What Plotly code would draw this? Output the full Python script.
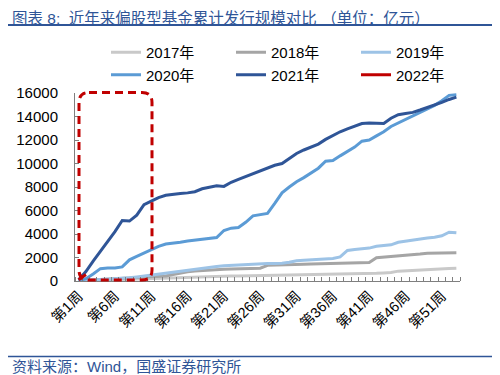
import plotly.graph_objects as go

weeks = list(range(1, 54))
tick_vals = [1, 6, 11, 16, 21, 26, 31, 36, 41, 46, 51]
tick_text = ["第%d周" % w for w in tick_vals]

series_names = ["2017年", "2018年", "2019年", "2020年", "2021年", "2022年"]

y2017 = [10, 30, 50, 70, 90, 110, 130, 160, 190, 220, 250, 270, 300, 320, 340, 360, 370, 380, 390, 400,
         410, 420, 430, 440, 450, 460, 470, 480, 490, 500, 505, 510, 520, 530, 540, 550, 560, 580, 600, 620,
         640, 660, 690, 720, 840, 880, 910, 940, 970, 1000, 1030, 1060, 1080]
y2018 = [30, 60, 90, 110, 140, 170, 200, 230, 260, 300, 340, 380, 420, 560, 680, 780, 850, 900, 950, 980,
         1000, 1020, 1040, 1050, 1070, 1090, 1330, 1360, 1380, 1400, 1410, 1420, 1440, 1460, 1470, 1490, 1500, 1520, 1540, 1560,
         1580, 1980, 2030, 2060, 2120, 2150, 2200, 2300, 2370, 2390, 2400, 2410, 2410]
y2019 = [20, 50, 80, 120, 150, 180, 220, 280, 350, 430, 520, 620, 730, 810, 870, 930, 1000, 1070, 1150, 1230,
         1290, 1330, 1370, 1400, 1440, 1460, 1480, 1490, 1510, 1600, 1720, 1760, 1790, 1820, 1860, 1920, 2050, 2600, 2680, 2730,
         2800, 2950, 3000, 3080, 3300, 3400, 3500, 3580, 3650, 3720, 3850, 4150, 4100]
y2020 = [0, 200, 600, 1050, 1100, 1100, 1200, 1800, 2100, 2400, 2700, 2950, 3150, 3200, 3300, 3400, 3480, 3550, 3600, 3700,
         4300, 4500, 4550, 5000, 5550, 5650, 5750, 6600, 7500, 8000, 8450, 8800, 9200, 9600, 10200, 10250, 10650, 11000, 11400, 11900,
         12000, 12350, 12700, 13150, 13450, 13700, 14050, 14350, 14600, 14950, 15350, 15800, 15850]
y2021 = [100, 800, 1700, 2500, 3300, 4200, 5150, 5100, 5600, 6500, 6800, 7100, 7300, 7400, 7450, 7500, 7600, 7850, 7950, 8100,
         8050, 8400, 8650, 8900, 9150, 9400, 9650, 9850, 10000, 10400, 10850, 11150, 11400, 11650, 12050, 12400, 12700, 12950, 13200, 13400,
         13450, 13450, 13400, 13850, 14150, 14250, 14350, 14550, 14750, 15000, 15200, 15450, 15650]
y2022 = [100, 550]

colors = ["#C9C9C9", "#A5A5A5", "#9DC3E6", "#5B9BD5", "#2F5597", "#C00000"]
all_y = [y2017, y2018, y2019, y2020, y2021, y2022]

fig = go.Figure()
for name, ys, c in zip(series_names, all_y, colors):
    fig.add_trace(go.Scatter(x=weeks[:len(ys)], y=ys, mode="lines", name=name,
                             line=dict(color=c, width=3)))

# page body has an 8px default margin: lay out in page pixels, then offset
OFF = 8
W, H = 500 - OFF, 375 - OFF
PL, PR, PT, PB = 75, 460, 93, 281          # plot area in page pixels
L, T = PL - OFF, PT - OFF
pw, ph = PR - PL, PB - PT
R, B = W - L - pw, H - T - ph

def px_x(px):
    return (px - PL) / pw

def px_y(py):
    return (PB - py) / ph

# rounded dashed rectangle (highlight box)
x0, x1 = px_x(79), px_x(152)
y0, y1 = px_y(280), px_y(92.5)
rx, ry = 10 / pw, 10 / ph
path = (f"M {x0+rx},{y1} L {x1-rx},{y1} Q {x1},{y1} {x1},{y1-ry} L {x1},{y0+ry} "
        f"Q {x1},{y0} {x1-rx},{y0} L {x0+rx},{y0} Q {x0},{y0} {x0},{y0+ry} "
        f"L {x0},{y1-ry} Q {x0},{y1} {x0+rx},{y1} Z")

FONT = "Liberation Sans, Noto Sans CJK SC"
fig.update_layout(
    width=W, height=H,
    margin=dict(l=L, r=R, t=T, b=B, autoexpand=False),
    paper_bgcolor="white", plot_bgcolor="white",
    font=dict(family=FONT, size=14, color="#000000"),
    showlegend=True,
    legend=dict(orientation="h", x=px_x(106), xanchor="left", y=px_y(36), yanchor="top",
                font=dict(size=15, family=FONT),
                entrywidth=80, entrywidthmode="pixels", tracegroupgap=0,
                bgcolor="rgba(0,0,0,0)"),
    xaxis=dict(range=[0.5, 53.5], tickmode="array", tickvals=tick_vals, ticktext=tick_text,
               tickangle=-45, showgrid=False, zeroline=False, showline=True,
               linecolor="#7F7F7F", linewidth=1, ticks="",
               tickfont=dict(size=14.5, family=FONT),
               minor=dict(ticks="inside", tickmode="linear", tick0=0.5, dtick=1,
                          ticklen=4, tickcolor="#7F7F7F", showgrid=False)),
    yaxis=dict(range=[0, 16000], dtick=2000, tick0=0, showgrid=False, zeroline=False,
               showline=True, linecolor="#7F7F7F", linewidth=1, ticks="inside",
               ticklen=4, tickcolor="#7F7F7F", tickformat="d", ticklabelstandoff=13,
               tickfont=dict(size=15)),
    shapes=[
        dict(type="path", xref="paper", yref="paper", path=path,
             line=dict(color="#C00000", width=3, dash="8px,5px")),
        dict(type="line", xref="paper", yref="paper", x0=px_x(0), x1=px_x(500),
             y0=px_y(25), y1=px_y(25), line=dict(color="#2F5597", width=2)),
        dict(type="line", xref="paper", yref="paper", x0=px_x(0), x1=px_x(500),
             y0=px_y(356.5), y1=px_y(356.5), line=dict(color="#2F5597", width=1.5)),
    ],
    annotations=[
        dict(text="图表 8:  近年来偏股型基金累计发行规模对比 （单位：亿元）", xref="paper", yref="paper",
             x=px_x(10), y=px_y(8.5), xanchor="left", yanchor="top", showarrow=False,
             font=dict(size=15.5, color="#2F5597", family=FONT)),
        dict(text="资料来源：Wind，国盛证券研究所", xref="paper", yref="paper",
             x=px_x(10), y=px_y(366), xanchor="left", yanchor="middle", showarrow=False,
             font=dict(size=15, color="#2F5597", family=FONT)),
    ],
)

fig.write_html("out.html")
